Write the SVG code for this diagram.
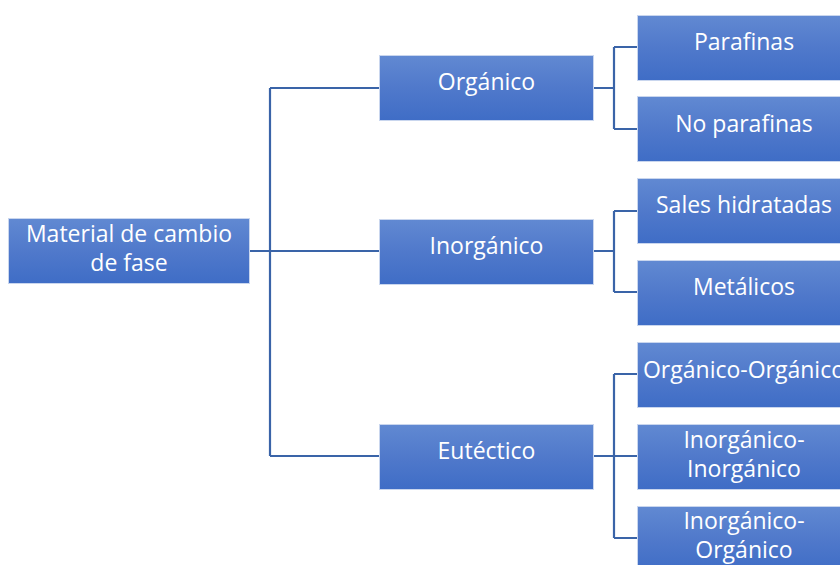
<svg xmlns="http://www.w3.org/2000/svg" width="840" height="565" viewBox="0 0 840 565">
<defs>
<linearGradient id="g" x1="0" y1="0" x2="0" y2="1">
<stop offset="0" stop-color="#6189D2"/>
<stop offset="0.5" stop-color="#5079CB"/>
<stop offset="1" stop-color="#3F6DC6"/>
</linearGradient>
</defs>
<style>
.box{fill:url(#g);stroke:#C9D6EE;stroke-width:1}
.t{fill:#FFFFFF;font-family:"Open Sans","Liberation Sans",sans-serif;font-size:23px;text-anchor:middle}
.c{fill:none;stroke:#3A64A8;stroke-width:2.2}
</style>
<rect width="840" height="565" fill="#FFFFFF"/>
<g id="connectors">
<path class="c" d="M249,251 H270 M270,88 V456 M270,88 H380 M270,251 H380 M270,456 H380"/>
<path class="c" d="M593,88 H614 M614,47 V129 M614,47 H637 M614,129 H637"/>
<path class="c" d="M593,251 H614 M614,211 V292 M614,211 H637 M614,292 H637"/>
<path class="c" d="M593,456 H614 M614,374 V538 M614,374 H637 M614,456 H637 M614,538 H637"/>
</g>
<g id="root"><rect class="box" x="8.5" y="218.5" width="241" height="65"/><text class="t" x="129" y="242">Material de cambio</text><text class="t" x="129" y="271">de fase</text></g>
<g id="organico"><rect class="box" x="379.5" y="55.5" width="214" height="65"/><text class="t" x="486.5" y="90">Orgánico</text></g>
<g id="inorganico"><rect class="box" x="379.5" y="219.5" width="214" height="65"/><text class="t" x="486.5" y="254">Inorgánico</text></g>
<g id="eutectico"><rect class="box" x="379.5" y="424.5" width="214" height="65"/><text class="t" x="486.5" y="459">Eutéctico</text></g>
<g id="parafinas"><rect class="box" x="637.5" y="15.5" width="213" height="65"/><text class="t" x="744" y="50">Parafinas</text></g>
<g id="noparafinas"><rect class="box" x="637.5" y="96.5" width="213" height="65"/><text class="t" x="744" y="132">No parafinas</text></g>
<g id="sales"><rect class="box" x="637.5" y="178.5" width="213" height="65"/><text class="t" x="744" y="213">Sales hidratadas</text></g>
<g id="metalicos"><rect class="box" x="637.5" y="260.5" width="213" height="65"/><text class="t" x="744" y="295">Metálicos</text></g>
<g id="orgorg"><rect class="box" x="637.5" y="342.5" width="213" height="65"/><text class="t" x="744" y="378">Orgánico-Orgánico</text></g>
<g id="inorginorg"><rect class="box" x="637.5" y="424.5" width="213" height="65"/><text class="t" x="744" y="448">Inorgánico-</text><text class="t" x="744" y="477">Inorgánico</text></g>
<g id="inorgorg"><rect class="box" x="637.5" y="506.5" width="213" height="65"/><text class="t" x="744" y="529">Inorgánico-</text><text class="t" x="744" y="558">Orgánico</text></g>
</svg>
